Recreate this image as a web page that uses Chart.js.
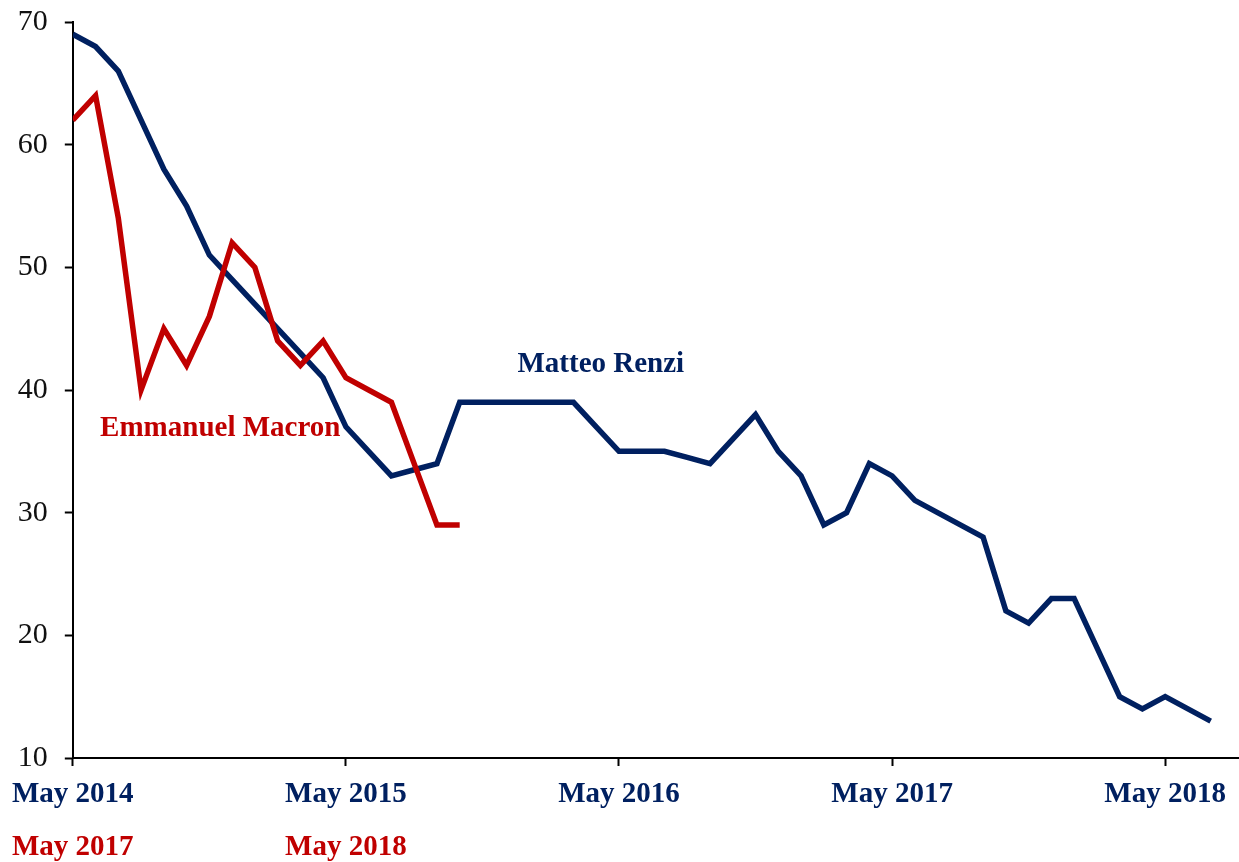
<!DOCTYPE html>
<html>
<head>
<meta charset="utf-8">
<script src="https://cdn.jsdelivr.net/npm/chart.js@4/dist/chart.umd.min.js"></script>
<style>
  html, body { margin: 0; padding: 0; background: #fff; }
  #wrap { width: 1239px; height: 862px; }
</style>
</head>
<body>
<div id="wrap"><canvas id="approval"></canvas></div>
<script>
// monthly approval (%), counted from the first month in office
const renziValues = [69, 68, 66, 62, 58, 55, 51, 49, 47, 45, 43, 41, 37, 35, 33, 33.5, 34,
  39, 39, 39, 39, 39, 39, 37, 35, 35, 35, 34.5, 34, 36, 38, 35, 33, 29, 30, 34,
  33, 31, 30, 29, 28, 22, 21, 23, 23, 19, 15, 14, 15, 14, 13];
const macronValues = [62, 64, 54, 40, 45, 42, 46, 52, 50, 44, 42, 44, 41, 40, 39, 34, 29, 29];

const tickMonths = [0, 12, 24, 36, 48];
const renziTickLabels = ['May 2014', 'May 2015', 'May 2016', 'May 2017', 'May 2018'];
const macronTickLabels = ['May 2017', 'May 2018'];
const yTicks = [10, 20, 30, 40, 50, 60, 70];

const NAVY = '#002060';
const RED = '#c00000';
const SERIF = '"Liberation Serif", "Times New Roman", serif';

const toPoints = vals => vals.map((v, i) => ({ x: i, y: v }));

// series names written next to the lines
const seriesNames = {
  id: 'seriesNames',
  afterDatasetsDraw(chart, args, opts) {
    const { ctx, scales: { x, y } } = chart;
    ctx.save();
    ctx.font = 'bold 29px ' + SERIF;
    ctx.textBaseline = 'middle';
    opts.items.forEach(it => {
      ctx.fillStyle = it.color;
      ctx.textAlign = it.align;
      ctx.fillText(it.text, x.getPixelForValue(it.month), y.getPixelForValue(it.value));
    });
    ctx.restore();
  }
};

new Chart(document.getElementById('approval'), {
  type: 'line',
  data: {
    datasets: [
      {
        label: 'Matteo Renzi',
        data: toPoints(renziValues),
        borderColor: NAVY,
        borderWidth: 5.5,
        pointRadius: 0,
        tension: 0,
        order: 2
      },
      {
        label: 'Emmanuel Macron',
        data: toPoints(macronValues),
        borderColor: RED,
        borderWidth: 5.5,
        pointRadius: 0,
        tension: 0,
        order: 1
      }
    ]
  },
  options: {
    responsive: true,
    maintainAspectRatio: false,
    animation: false,
    layout: { padding: { top: 0, right: 1, left: 0, bottom: 0 } },
    plugins: {
      legend: { display: false },
      tooltip: { enabled: false },
      seriesNames: {
        items: [
          { text: 'Matteo Renzi', month: 23.2, value: 42.1, color: NAVY, align: 'center' },
          { text: 'Emmanuel Macron', month: 1.2, value: 36.9, color: RED, align: 'left' }
        ]
      }
    },
    scales: {
      x: {
        type: 'linear',
        position: 'bottom',
        min: 0,
        max: 51.2,
        afterBuildTicks: s => { s.ticks = tickMonths.map(v => ({ value: v })); },
        afterFit: s => { s.height = 60; },
        grid: { drawOnChartArea: false, color: '#000', tickLength: 8, tickWidth: 2 },
        border: { color: '#000', width: 2 },
        ticks: {
          autoSkip: false,
          maxRotation: 0,
          padding: 11,
          color: NAVY,
          font: { family: SERIF, size: 29, weight: 'bold' },
          callback: (v) => renziTickLabels[tickMonths.indexOf(v)]
        }
      },
      x2: {
        type: 'linear',
        position: 'bottom',
        min: 0,
        max: 51.2,
        afterBuildTicks: s => { s.ticks = tickMonths.slice(0, macronTickLabels.length).map(v => ({ value: v })); },
        afterFit: s => { s.height = 44; },
        grid: { display: false, drawTicks: false },
        border: { display: false },
        ticks: {
          autoSkip: false,
          maxRotation: 0,
          padding: 12,
          color: RED,
          font: { family: SERIF, size: 29, weight: 'bold' },
          callback: (v) => macronTickLabels[tickMonths.indexOf(v)]
        }
      },
      y: {
        min: 10,
        max: 70,
        afterBuildTicks: s => { s.ticks = yTicks.map(v => ({ value: v })); },
        afterFit: s => { s.width = 72; },
        grid: { drawOnChartArea: false, color: '#000', tickLength: 8, tickWidth: 2 },
        border: { color: '#000', width: 2 },
        ticks: {
          padding: 17,
          color: '#111',
          // small line height keeps the top label from pushing the plot down
          font: { family: SERIF, size: 30, lineHeight: '10px' }
        }
      }
    }
  },
  plugins: [seriesNames]
});
</script>
</body>
</html>
